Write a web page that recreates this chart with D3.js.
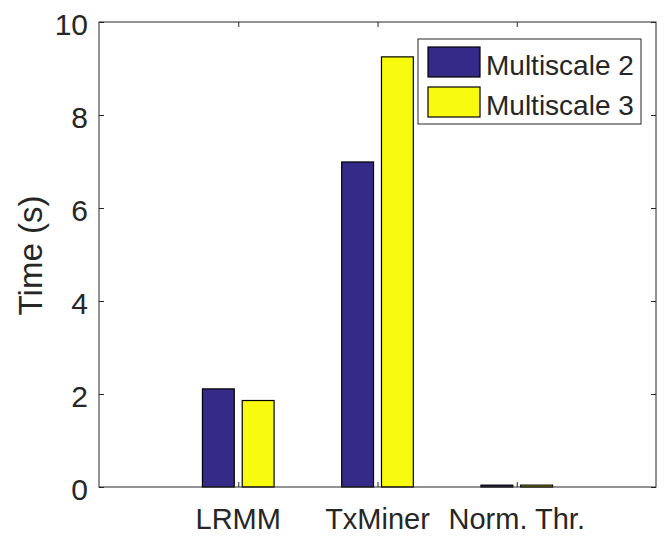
<!DOCTYPE html>
<html>
<head>
<meta charset="utf-8">
<script src="https://cdn.jsdelivr.net/npm/d3@7"></script>
<style>
  body { margin: 0; background: #fff; }
  text { font-family: "Liberation Sans", Arial, sans-serif; fill: #262626; }
</style>
</head>
<body>
<script>
'use strict';

// data
var categories = ["LRMM", "TxMiner", "Norm. Thr."];
var seriesNames = ["Multiscale 2", "Multiscale 3"];
var multiscale2 = [2.11, 6.99, 0.04];
var multiscale3 = [1.86, 9.25, 0.04];
var yTicks = [0, 2, 4, 6, 8, 10];

var outerWidth = 664;
var outerHeight = 539;
var margin = { left: 99, top: 22, right: 8, bottom: 52 };
var innerWidth = outerWidth - margin.left - margin.right;
var innerHeight = outerHeight - margin.top - margin.bottom;

var colors = ["#352A87", "#F9FB0E"];
var axisColor = "#262626";

var svg = d3.select("body").append("svg")
    .attr("width", outerWidth)
    .attr("height", outerHeight);

var g = svg.append("g")
    .attr("transform", "translate(" + margin.left + "," + margin.top + ")");

// matlab style: categories at 1..n, xlim [0, n+1]
var xScale = d3.scaleLinear().domain([0, categories.length + 1]).range([0, innerWidth]);
var yScale = d3.scaleLinear().domain([0, 10]).range([innerHeight, 0]);

var groupWidth = Math.min(0.8, 2 / 3.5);
var barWidth = groupWidth / seriesNames.length * 0.8;
var offsets = [-groupWidth / 4, groupWidth / 4];

var allSeries = [multiscale2, multiscale3];

allSeries.forEach(function(values, s) {
    g.selectAll(".bar" + s)
        .data(values)
        .enter()
        .append("rect")
        .attr("class", "bar" + s)
        .attr("x", function(d, i) { return xScale(i + 1 + offsets[s] - barWidth / 2); })
        .attr("width", xScale(barWidth) - xScale(0))
        .attr("y", function(d) { return yScale(d); })
        .attr("height", function(d) { return yScale(0) - yScale(d); })
        .attr("fill", colors[s])
        .attr("stroke", "#000")
        .attr("stroke-width", 1.2);
});

// box
g.append("rect")
    .attr("x", 0).attr("y", 0)
    .attr("width", innerWidth).attr("height", innerHeight)
    .attr("fill", "none")
    .attr("stroke", axisColor)
    .attr("stroke-width", 1);

// tick marks, all inside
function tickLines(sel) {
    sel.select(".domain").remove();
    sel.selectAll("text").remove();
    sel.selectAll("line").attr("stroke", axisColor);
}

g.append("g")
    .call(d3.axisLeft(yScale).tickValues(yTicks).tickSizeInner(-5).tickSizeOuter(0))
    .call(tickLines);

g.append("g")
    .attr("transform", "translate(" + innerWidth + ",0)")
    .call(d3.axisRight(yScale).tickValues(yTicks).tickSizeInner(-5).tickSizeOuter(0))
    .call(tickLines);

var xTickVals = categories.map(function(d, i) { return i + 1; });

g.append("g")
    .attr("transform", "translate(0," + innerHeight + ")")
    .call(d3.axisBottom(xScale).tickValues(xTickVals).tickSizeInner(-5).tickSizeOuter(0))
    .call(tickLines);

g.append("g")
    .call(d3.axisTop(xScale).tickValues(xTickVals).tickSizeInner(-5).tickSizeOuter(0))
    .call(tickLines);

// tick labels
svg.selectAll(".ylabel")
    .data(yTicks)
    .enter()
    .append("text")
    .attr("class", "ylabel")
    .attr("x", margin.left - 11)
    .attr("y", function(d) { return margin.top + yScale(d) + 13; })
    .attr("text-anchor", "end")
    .style("font-size", "30px")
    .text(function(d) { return d; });

svg.selectAll(".xlabel")
    .data(categories)
    .enter()
    .append("text")
    .attr("class", "xlabel")
    .attr("x", function(d, i) { return margin.left + xScale(i + 1); })
    .attr("y", margin.top + innerHeight + 42)
    .attr("text-anchor", "middle")
    .style("font-size", "29px")
    .text(function(d) { return d; });

// y label
svg.append("text")
    .attr("transform", "translate(42," + (margin.top + innerHeight / 2 + 1) + ") rotate(-90)")
    .attr("text-anchor", "middle")
    .style("font-size", "33px")
    .text("Time (s)");

// legend
var legend = svg.append("g").attr("transform", "translate(418,39)");
legend.append("rect")
    .attr("width", 223).attr("height", 85)
    .attr("fill", "#fff")
    .attr("stroke", axisColor)
    .attr("stroke-width", 1);

var item = legend.selectAll(".item")
    .data(seriesNames)
    .enter()
    .append("g")
    .attr("class", "item")
    .attr("transform", function(d, i) { return "translate(10," + (8 + i * 40) + ")"; });

item.append("rect")
    .attr("width", 52).attr("height", 30)
    .attr("fill", function(d, i) { return colors[i]; })
    .attr("stroke", "#000")
    .attr("stroke-width", 1.2);

item.append("text")
    .attr("x", 58)
    .attr("y", 28)
    .style("font-size", "28px")
    .text(function(d) { return d; });
</script>
</body>
</html>
